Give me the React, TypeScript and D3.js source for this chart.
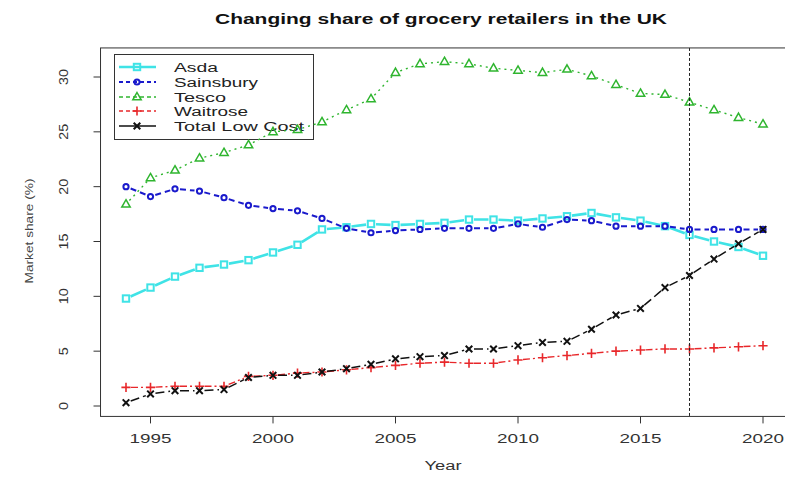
import React from "react";
import * as d3 from "d3";

const years = [1994,1995,1996,1997,1998,1999,2000,2001,2002,2003,2004,2005,2006,2007,2008,2009,2010,2011,2012,2013,2014,2015,2016,2017,2018,2019,2020];
const asda = [9.8,10.8,11.8,12.6,12.9,13.3,14.0,14.7,16.1,16.3,16.6,16.5,16.6,16.7,17.0,17.0,16.9,17.1,17.3,17.6,17.2,16.9,16.4,15.6,15.0,14.5,13.7];
const sainsbury = [20.0,19.1,19.8,19.6,19.0,18.3,18.0,17.8,17.1,16.2,15.8,16.0,16.1,16.2,16.2,16.2,16.6,16.3,17.0,16.9,16.4,16.4,16.4,16.1,16.1,16.1,16.1];
const tesco = [18.4,20.8,21.5,22.6,23.1,23.8,25.0,25.2,25.9,27.0,28.0,30.4,31.2,31.4,31.2,30.8,30.6,30.4,30.7,30.1,29.3,28.5,28.4,27.7,27.0,26.3,25.7];
const waitrose = [1.7,1.7,1.8,1.8,1.8,2.7,2.8,3.0,3.1,3.3,3.5,3.7,3.9,4.0,3.9,3.9,4.2,4.4,4.6,4.8,5.0,5.1,5.2,5.2,5.3,5.4,5.5];
const lowCost = [0.3,1.1,1.4,1.4,1.5,2.6,2.8,2.8,3.1,3.4,3.8,4.3,4.5,4.6,5.2,5.2,5.5,5.8,5.9,7.0,8.3,8.9,10.8,11.9,13.4,14.8,16.1];
const xTicks = [1995,2000,2005,2010,2015,2020];
const yTicks = [0,5,10,15,20,25,30];
const markerYear = 2017;
const seriesNames = ["Asda","Sainsbury","Tesco","Waitrose","Total Low Cost"];
const title = "Changing share of grocery retailers in the UK";

const W = 785, H = 477;
const x = d3.scaleLinear().domain([1994, 2020]).range([126, 763]);
const y = d3.scaleLinear().domain([0, 30]).range([406, 77]);

type Style = { color: string; dash: string; width: number; pch: string; };
const styles: Style[] = [
  { color: "#3fe3e6", dash: "none", width: 2.6, pch: "square" },
  { color: "#1a1acc", dash: "6,4", width: 2, pch: "circle" },
  { color: "#2fb52f", dash: "2,4", width: 1.4, pch: "triangle" },
  { color: "#e8272a", dash: "7,3,2,3", width: 1.4, pch: "plus" },
  { color: "#111111", dash: "9,4", width: 1.5, pch: "cross" },
];
const seriesData = [asda, sainsbury, tesco, waitrose, lowCost];
const font = "'Liberation Sans', Arial, sans-serif";

function Marker({ cx, cy, s }: { cx: number; cy: number; s: Style }) {
  const c = s.color;
  switch (s.pch) {
    case "square":
      return <rect x={cx - 3.2} y={cy - 3.2} width={6.4} height={6.4} fill="none" stroke={c} strokeWidth={2} />;
    case "circle":
      return <circle cx={cx} cy={cy} r={2.6} fill="none" stroke={c} strokeWidth={2} />;
    case "triangle":
      return <path d={`M${cx},${cy - 4.5}L${cx + 4.2},${cy + 2.8}L${cx - 4.2},${cy + 2.8}Z`} fill="none" stroke={c} strokeWidth={1.5} />;
    case "plus":
      return <path d={`M${cx - 4.6},${cy}H${cx + 4.6}M${cx},${cy - 4.6}V${cy + 4.6}`} stroke={c} strokeWidth={1.6} />;
    default:
      return <path d={`M${cx - 3.3},${cy - 3.3}L${cx + 3.3},${cy + 3.3}M${cx - 3.3},${cy + 3.3}L${cx + 3.3},${cy - 3.3}`} stroke={c} strokeWidth={2} />;
  }
}

function gapSegments(vals: number[], gap: number) {
  const segs: string[] = [];
  for (let i = 0; i < vals.length - 1; i++) {
    const x1 = x(years[i]), y1 = y(vals[i]), x2 = x(years[i + 1]), y2 = y(vals[i + 1]);
    const dx = x2 - x1, dy = y2 - y1, len = Math.hypot(dx, dy);
    if (len <= gap * 2) continue;
    const ux = dx / len, uy = dy / len;
    segs.push(`M${x1 + ux * gap},${y1 + uy * gap}L${x2 - ux * gap},${y2 - uy * gap}`);
  }
  return segs.join("");
}

function Txt(props: any) {
  const { w, children, ...rest } = props;
  return (
    <text fontFamily={font} textLength={w} lengthAdjust="spacingAndGlyphs" {...rest}>
      {children}
    </text>
  );
}

export default function App() {
  const left = x(1994 - 1.04), right = x(2020 + 1.04);
  const top = y(32.65), bottom = y(-0.95);
  const legendW = [44, 84, 52, 74, 130];
  const legRows = [67, 82, 97, 111, 126];
  return (
    <svg width={W} height={H} style={{ position: "absolute", left: 0, top: 0, background: "#fff" }}>
      <rect width={W} height={H} fill="#fff" />
      <Txt x={441} y={24} w={452} fontSize={14} fontWeight="bold" textAnchor="middle" fill="#111">{title}</Txt>

      {/* legend (drawn first, transparent) */}
      <rect x={114.5} y={54.5} width={199} height={85} fill="none" stroke="#333" strokeWidth={1} />
      {seriesNames.map((n, i) => (
        <g key={n}>
          <line x1={119} x2={156} y1={legRows[i]} y2={legRows[i]} stroke={styles[i].color} strokeWidth={styles[i].width} strokeDasharray={styles[i].dash === "none" || i === 4 ? undefined : "4,3"} />
          <Marker cx={137} cy={legRows[i]} s={styles[i]} />
          <Txt x={174} y={legRows[i] + 4.5} w={legendW[i]} fontSize={12.5} fill="#222">{n}</Txt>
        </g>
      ))}

      {/* series */}
      {seriesData.map((vals, i) => (
        <g key={i}>
          <path d={gapSegments(vals, 5)} fill="none" stroke={styles[i].color} strokeWidth={styles[i].width} strokeDasharray={styles[i].dash === "none" ? undefined : styles[i].dash} />
          {vals.map((v, j) => <Marker key={j} cx={x(years[j])} cy={y(v)} s={styles[i]} />)}
        </g>
      ))}

      {/* 2017 reference line */}
      <line x1={x(markerYear)} x2={x(markerYear)} y1={top} y2={bottom} stroke="#222" strokeWidth={1} strokeDasharray="3,2" />

      {/* box */}
      <rect x={left} y={top} width={right - left} height={bottom - top} fill="none" stroke="#333" strokeWidth={1} />

      {/* x axis */}
      {xTicks.map(t => (
        <g key={t}>
          <line x1={x(t)} x2={x(t)} y1={bottom} y2={bottom + 7} stroke="#333" />
          <Txt x={x(t)} y={443} w={42} fontSize={12.5} textAnchor="middle" fill="#333">{String(t)}</Txt>
        </g>
      ))}
      <Txt x={443} y={470} w={37} fontSize={12} textAnchor="middle" fill="#333">Year</Txt>

      {/* y axis */}
      {yTicks.map(t => (
        <g key={t}>
          <line x1={left} x2={left - 7} y1={y(t)} y2={y(t)} stroke="#333" />
          <Txt transform={`translate(68,${y(t)}) rotate(-90)`} x={0} y={0} w={String(t).length * 8} fontSize={12} textAnchor="middle" fill="#333">{String(t)}</Txt>
        </g>
      ))}
      <Txt transform={`translate(33,231) rotate(-90)`} x={0} y={0} w={105} fontSize={10.5} textAnchor="middle" fill="#444">Market share (%)</Txt>
    </svg>
  );
}
